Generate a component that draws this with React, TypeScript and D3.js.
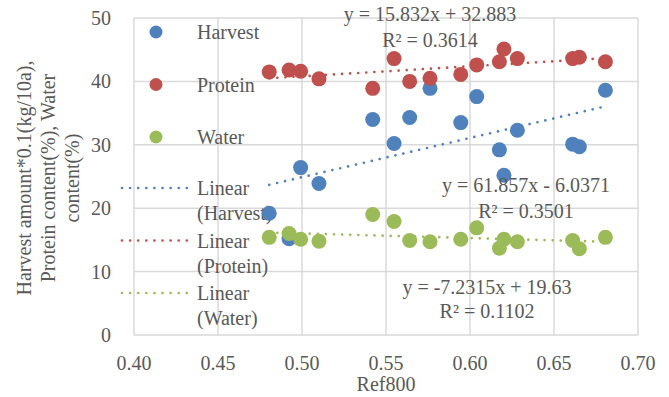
import React, { useRef, useEffect } from "react";
import { select, scaleLinear, range } from "d3";

// samples (Ref800 reflectance) and the three measured series
const ref800 = [0.4805, 0.4923, 0.4992, 0.5101, 0.5421, 0.5548, 0.5641, 0.5762, 0.5945, 0.604, 0.6175, 0.6202, 0.6282, 0.6611, 0.6651, 0.6806];
const harvest = [19.2, 15.2, 26.4, 23.9, 34.0, 30.2, 34.3, 38.9, 33.5, 37.6, 29.2, 25.2, 32.3, 30.1, 29.7, 38.6];
const protein = [41.5, 41.8, 41.6, 40.4, 38.9, 43.6, 40.0, 40.5, 41.1, 42.6, 43.1, 45.1, 43.6, 43.6, 43.8, 43.1];
const water = [15.4, 16.0, 15.1, 14.8, 19.0, 17.9, 14.9, 14.7, 15.1, 16.9, 13.7, 15.1, 14.7, 14.9, 13.6, 15.4];

const seriesNames = ["Harvest", "Protein", "Water"];
const slopes = [61.857, 15.832, -7.2315];
const intercepts = [-6.0371, 32.883, 19.63];
const equations = ["y = 61.857x - 6.0371", "y = 15.832x + 32.883", "y = -7.2315x + 19.63"];
const rSquared = ["R² = 0.3501", "R² = 0.3614", "R² = 0.1102"];

const xTicks = [0.4, 0.45, 0.5, 0.55, 0.6, 0.65, 0.7];
const yTicks = [0, 10, 20, 30, 40, 50];
const yTitle = ["Harvest amount*0.1(kg/10a),", "Protein content(%), Water", "content(%)"];

const W = 669;
const H = 397;
const colors = ["#4F81BD", "#C0504D", "#9BBB59"];
const textColor = "#595959";
const gridColor = "#D9D9D9";
const FONT = "'Liberation Serif', 'Times New Roman', serif";

const App: React.FC = () => {
  const svgRef = useRef<SVGSVGElement>(null);

  useEffect(() => {
    const svg = select(svgRef.current);
    svg.selectAll("*").remove();

    const x = scaleLinear().domain([0.4, 0.7]).range([134, 638]);
    const y = scaleLinear().domain([0, 50]).range([335, 18]);

    // grid
    const grid = svg.append("g");
    grid.selectAll("line.h")
      .data(yTicks)
      .join("line")
      .attr("x1", x(0.4)).attr("x2", x(0.7))
      .attr("y1", (d) => y(d)).attr("y2", (d) => y(d))
      .attr("stroke", gridColor).attr("stroke-width", 1.5);
    grid.selectAll("line.v")
      .data(xTicks)
      .join("line")
      .attr("y1", y(0)).attr("y2", y(50))
      .attr("x1", (d) => x(d)).attr("x2", (d) => x(d))
      .attr("stroke", gridColor).attr("stroke-width", 1.5);

    // tick labels
    svg.append("g").selectAll("text")
      .data(yTicks)
      .join("text")
      .attr("x", 111).attr("y", (d) => y(d))
      .attr("text-anchor", "end").attr("dominant-baseline", "central")
      .text((d) => d);
    svg.append("g").selectAll("text")
      .data(xTicks)
      .join("text")
      .attr("x", (d) => x(d)).attr("y", 363)
      .attr("text-anchor", "middle").attr("dominant-baseline", "central")
      .text((d) => d.toFixed(2));

    // axis titles
    svg.append("text")
      .attr("x", 386).attr("y", 384)
      .attr("text-anchor", "middle").attr("dominant-baseline", "central")
      .text("Ref800");
    const yt = svg.append("text")
      .attr("transform", "translate(24,178) rotate(-90)")
      .attr("text-anchor", "middle").attr("dominant-baseline", "central");
    yTitle.forEach((t, i) => {
      yt.append("tspan").attr("x", 0).attr("y", i * 24).text(t);
    });

    // legend
    const legend = svg.append("g");
    seriesNames.forEach((name, i) => {
      const ly = 32 + i * 52.5;
      legend.append("circle").attr("cx", 156).attr("cy", ly).attr("r", 6.5).attr("fill", colors[i]);
      legend.append("text").attr("x", 197).attr("y", ly).attr("dominant-baseline", "central").text(name);
    });
    seriesNames.forEach((name, i) => {
      const ly = 188 + i * 52.5;
      legend.append("line")
        .attr("x1", 122).attr("x2", 188).attr("y1", ly).attr("y2", ly)
        .attr("stroke", colors[i]).attr("stroke-width", 2.7)
        .attr("stroke-linecap", "round").attr("stroke-dasharray", "0 8.1");
      legend.append("text").attr("x", 197).attr("y", ly).attr("dominant-baseline", "central").text("Linear");
      legend.append("text").attr("x", 197).attr("y", ly + 25).attr("dominant-baseline", "central").text(`(${name})`);
    });

    // markers
    const allSeries = [harvest, protein, water];
    allSeries.forEach((vals, i) => {
      svg.append("g").selectAll("circle")
        .data(vals)
        .join("circle")
        .attr("cx", (_, j) => x(ref800[j]))
        .attr("cy", (d) => y(d))
        .attr("r", 7.5)
        .attr("fill", colors[i]);
    });

    // trendlines
    const x0 = Math.min(...ref800);
    const x1 = Math.max(...ref800);
    allSeries.forEach((_, i) => {
      svg.append("line")
        .attr("x1", x(x0)).attr("x2", x(x1))
        .attr("y1", y(slopes[i] * x0 + intercepts[i]))
        .attr("y2", y(slopes[i] * x1 + intercepts[i]))
        .attr("stroke", colors[i]).attr("stroke-width", 2.7)
        .attr("stroke-linecap", "round").attr("stroke-dasharray", "0 8.1");
    });

    // equation labels
    const eqPos = [
      [526, 185, 211],
      [430, 14, 40],
      [487, 287, 311],
    ];
    eqPos.forEach(([ex, ey1, ey2], i) => {
      svg.append("text").attr("x", ex).attr("y", ey1)
        .attr("text-anchor", "middle").attr("dominant-baseline", "central").text(equations[i]);
      svg.append("text").attr("x", ex).attr("y", ey2)
        .attr("text-anchor", "middle").attr("dominant-baseline", "central").text(rSquared[i]);
    });

    svg.selectAll("text").attr("fill", textColor);
  }, []);

  return (
    <svg
      ref={svgRef}
      width={W}
      height={H}
      viewBox={`0 0 ${W} ${H}`}
      style={{ position: "absolute", left: 0, top: 0, background: "#fff", fontFamily: FONT, fontSize: 20 }}
    />
  );
};

export default App;
